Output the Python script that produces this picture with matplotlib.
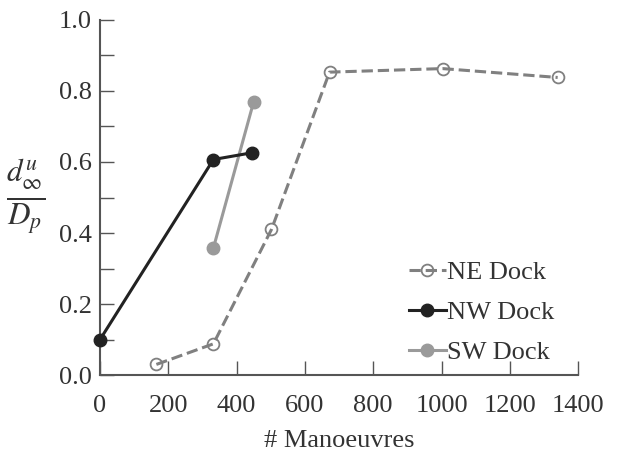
import numpy as np
import matplotlib.pyplot as plt

plt.rcParams['font.family'] = ['Liberation Serif', 'DejaVu Serif']
plt.rcParams['mathtext.fontset'] = 'stix'

ne_x = [165, 332, 502, 672, 1003, 1340]
ne_y = [0.03, 0.088, 0.41, 0.853, 0.863, 0.838]
nw_x = [0, 332, 445]
nw_y = [0.10, 0.607, 0.626]
sw_x = [332, 450]
sw_y = [0.358, 0.77]

fig = plt.figure(figsize=(6.19, 4.53), dpi=100)
ax = fig.add_axes([0.1616, 0.172, 0.7724, 0.784])

ax.plot(ne_x, ne_y, color='#808080', ls='--', lw=2.2, marker='o', ms=8.5,
        mfc='none', mec='#808080', mew=1.3, label='NE Dock', clip_on=False)
ax.plot(nw_x, nw_y, color='#222222', lw=2.2, marker='o', ms=9,
        label='NW Dock', clip_on=False, zorder=5)
ax.plot(sw_x, sw_y, color='#9a9a9a', lw=2.2, marker='o', ms=9,
        label='SW Dock', clip_on=False)

ax.set_xlim(0, 1400)
ax.set_ylim(0, 1.0)
ax.set_xticks(np.arange(0, 1401, 200))
ax.set_yticks(np.arange(0, 1.01, 0.2))
ax.set_yticks(np.arange(0.1, 1.0, 0.2), minor=True)
ax.yaxis.set_major_formatter(plt.FormatStrFormatter('%.1f'))
ax.tick_params(direction='in', length=10, width=1, colors='#555555',
               labelcolor='#333333', labelsize=19)
ax.tick_params(axis='x', pad=14)
ax.tick_params(axis='y', pad=6)
ax.tick_params(which='minor', direction='in', length=10, width=1, colors='#555555')

for s in ['top', 'right']:
    ax.spines[s].set_visible(False)
for s in ['left', 'bottom']:
    ax.spines[s].set_color('#555555')
    ax.spines[s].set_linewidth(1.5)

ax.set_xlabel('# Manoeuvres', fontsize=19, color='#333333', labelpad=10)
ax.set_ylabel(r'$\frac{d^{u}_{\infty}}{D_p}$', fontsize=32, rotation=0,
              color='#333333', labelpad=24, va='center')

leg = ax.legend(loc='lower right', bbox_to_anchor=(1.0, -0.035), frameon=False,
                fontsize=19, handlelength=1.4, handletextpad=0.05,
                labelspacing=0.62, labelcolor='#333333')

plt.savefig('out.png')
